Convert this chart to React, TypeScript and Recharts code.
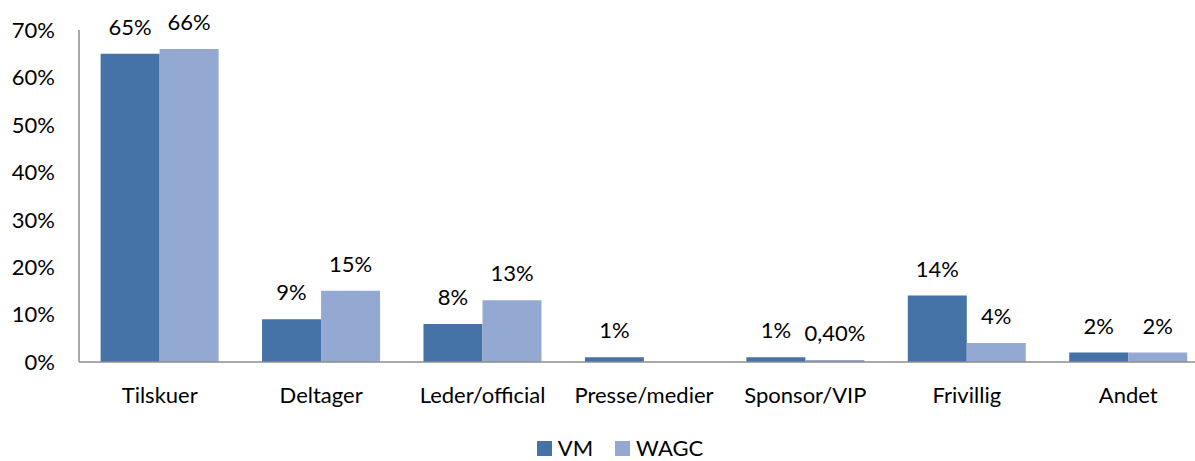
import { BarChart, Bar, XAxis, YAxis, LabelList } from 'recharts';

const categories = ['Tilskuer', 'Deltager', 'Leder/official', 'Presse/medier', 'Sponsor/VIP', 'Frivillig', 'Andet'];
const vmValues = [65, 9, 8, 1, 1, 14, 2];
const wagcValues: (number | null)[] = [66, 15, 13, null, 0.4, 4, 2];
const yTicks = [0, 10, 20, 30, 40, 50, 60, 70];
const seriesNames = ['VM', 'WAGC'];

const VM_COLOR = '#4572A7';
const WAGC_COLOR = '#94A9D1';
const FONT = 'Lato, "Open Sans", sans-serif';
const FS = 22;

const data = categories.map((c, i) => ({
  name: c,
  VM: vmValues[i],
  WAGC: wagcValues[i],
}));

const formatPct = (v: any) => {
  if (v === null || v === undefined) return '';
  return Number.isInteger(v) ? `${v}%` : `${v.toFixed(2).replace('.', ',')}%`;
};

export default function App() {
  const colors = [VM_COLOR, WAGC_COLOR];
  return (
    <div style={{ position: 'absolute', left: 0, top: 0, width: 1195, height: 461, overflow: 'hidden', background: '#fff' }}>
      <BarChart
        width={1215}
        height={461}
        data={data}
        margin={{ top: 30, right: 6, bottom: 69, left: 0 }}
        barCategoryGap="13.4%"
        barGap={0}
      >
        <XAxis
          dataKey="name"
          height={30}
          axisLine={{ stroke: '#8C8C8C', strokeWidth: 1.5 }}
          tickLine={false}
          tickSize={0}
          tickMargin={25}
          interval={0}
          tick={{ fill: '#000', fontSize: FS, fontFamily: FONT }}
        />
        <YAxis
          domain={[0, 70]}
          ticks={yTicks}
          width={79}
          axisLine={{ stroke: '#8C8C8C', strokeWidth: 1.5 }}
          tickLine={false}
          tickSize={0}
          tickMargin={24}
          tickFormatter={(v: number) => `${v}%`}
          tick={{ fill: '#000', fontSize: FS, fontFamily: FONT }}
        />
        <Bar dataKey="VM" fill={VM_COLOR} isAnimationActive={false}>
          <LabelList dataKey="VM" position="top" offset={19} formatter={formatPct} style={{ fill: '#000', fontSize: FS, fontFamily: FONT }} />
        </Bar>
        <Bar dataKey="WAGC" fill={WAGC_COLOR} isAnimationActive={false}>
          <LabelList dataKey="WAGC" position="top" offset={19} formatter={formatPct} style={{ fill: '#000', fontSize: FS, fontFamily: FONT }} />
        </Bar>
      </BarChart>
      <div style={{ position: 'absolute', top: 438, left: 0, width: 1240, display: 'flex', justifyContent: 'center', fontFamily: FONT, fontSize: FS, color: '#000', lineHeight: '20px' }}>
        {seriesNames.map((s, i) => (
          <div key={s} style={{ display: 'flex', alignItems: 'center', marginRight: i === 0 ? 22 : 0 }}>
            <span style={{ display: 'inline-block', width: 15, height: 15, background: colors[i], marginRight: 6 }} />
            <span>{s}</span>
          </div>
        ))}
      </div>
    </div>
  );
}
